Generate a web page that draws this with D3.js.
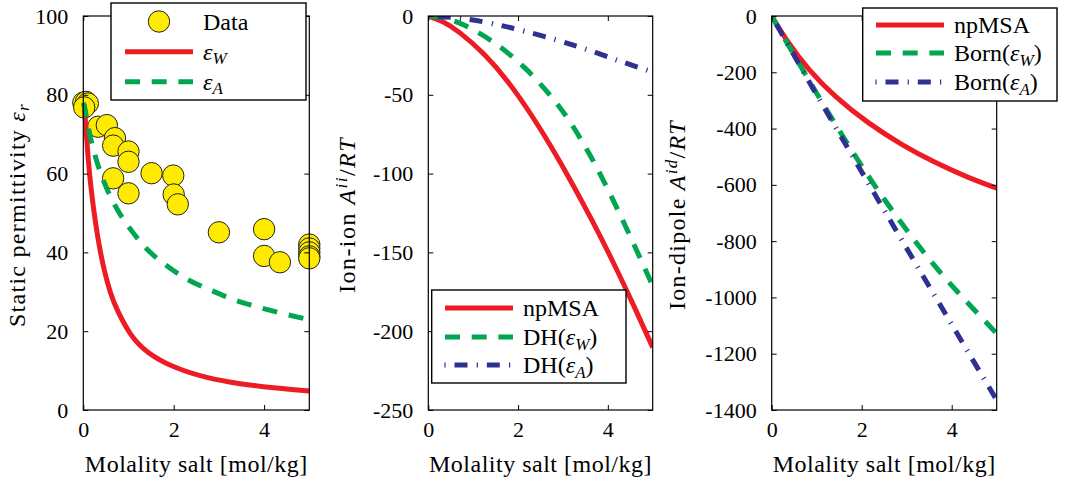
<!DOCTYPE html>
<html>
<head>
<meta charset="utf-8">
<script src="https://cdn.jsdelivr.net/npm/d3@7"></script>
<style>
html,body{margin:0;padding:0;background:#fff;}
svg{display:block;}
</style>
</head>
<body>
<svg id="chart" width="1072" height="483"></svg>
<script>
// ---------- Data ----------
// Panel 1: static permittivity
const dataMolality = [0, 0.06, 0.1, 0.02, 0.33, 0.52, 0.7, 0.66, 1.0, 1.0, 0.66, 1.0, 1.51, 1.99, 2.0, 2.09, 3.0, 4.0, 4.0, 4.35, 5.0, 5.0, 5.0, 5.0, 5.0];
const dataPermittivity = [78.0, 78.2, 77.8, 76.8, 71.9, 72.3, 69.0, 67.1, 65.6, 63.0, 58.8, 55.0, 60.1, 59.5, 54.7, 52.2, 45.1, 45.9, 39.1, 37.5, 42.0, 41.0, 40.0, 39.0, 38.5];

const epsWMolality = [0.02, 0.06, 0.1, 0.17, 0.28, 0.37, 0.46, 0.6, 0.74, 1.03, 1.4, 2.0, 2.73, 3.47, 4.2, 5.0];
const epsWValues   = [77.5, 71.5, 64.5, 56, 46.5, 40.5, 35.5, 29.5, 25.5, 19.0, 14.5, 10.7, 8.1, 6.6, 5.6, 4.8];

const epsAMolality = [0, 0.04, 0.13, 0.28, 0.46, 0.72, 1.02, 1.4, 1.81, 2.29, 2.8, 3.32, 3.87, 4.42, 5.0];
const epsAValues   = [78, 76.6, 70.2, 63.5, 57.5, 51.2, 46.1, 40.6, 36.8, 33.0, 30.5, 27.9, 26.1, 24.4, 22.9];

// Panel 2: ion-ion
const ionMolality = [0, 0.3, 0.67, 1.26, 1.78, 2.3, 2.75, 3.2, 3.64, 4.09, 4.53, 5.0];
const ionNpMSA    = [0, -3.0, -9.3, -24.1, -41.3, -62.6, -83.3, -105.8, -129.1, -154.3, -180.7, -210.3];
const dhWMolality = [0, 0.4, 0.74, 1.41, 2.15, 2.82, 3.2, 3.64, 4.09, 4.53, 5.0];
const dhWValues   = [0, -1.4, -4.5, -14.9, -31.9, -53.3, -68.5, -89.6, -114.8, -141.6, -171.2];
const dhAMolality = [0, 0.5, 1.04, 1.78, 2.9, 3.79, 4.38, 5.0];
const dhAValues   = [0, -0.6, -2.5, -6.8, -15.2, -23.7, -29.8, -35.5];

// Panel 3: ion-dipole
const dipMolality = [0, 0.36, 0.81, 1.4, 2.14, 2.88, 3.62, 4.36, 5.0];
const dipNpMSA    = [0, -95, -190, -287, -381, -457, -521, -574, -612];
const bornWMolality = [0, 0.66, 1.4, 2.14, 2.88, 3.62, 4.36, 5.0];
const bornWValues   = [0, -185, -381, -571, -737, -891, -1021, -1128];
const bornAMolality = [0, 0.88, 1.62, 2.29, 2.96, 3.7, 4.36, 5.0];
const bornAValues   = [0, -248, -450, -633, -815, -1015, -1193, -1365];

// Ticks
const xTicks = [0, 2, 4];
const yTicks1 = [0, 20, 40, 60, 80, 100];
const yTicks2 = [0, -50, -100, -150, -200, -250];
const yTicks3 = [0, -200, -400, -600, -800, -1000, -1200, -1400];

// ---------- Styles ----------
const RED = "#ed1c24", GREEN = "#00a650", BLUE = "#2e3192", YELLOW = "#ffeb00";
const FONT = "'Liberation Serif', 'DejaVu Serif', serif";
const FS = 22;

const svg = d3.select("#chart");
const plotTop = 16, plotBottom = 410;

function zip(xs, ys){ return xs.map((x,i)=>[x, ys[i]]); }

function fitWidth(t, target){
  t.style("font-family", FONT);
  const n = t.text().length;
  const w = t.node().getComputedTextLength();
  if (n > 1 && target > w) t.attr("letter-spacing", ((target - w) / n).toFixed(2));
}

function makePanel(cfg){
  const x = d3.scaleLinear().domain([0,5]).range([cfg.left, cfg.right]);
  const y = d3.scaleLinear().domain(cfg.ydom).range([plotBottom, plotTop]);
  const g = svg.append("g");
  const plot = g.append("g");
  const id = "clip" + Math.round(cfg.left);
  svg.append("defs").append("clipPath").attr("id", id)
    .append("rect").attr("x", cfg.left).attr("y", plotTop).attr("width", cfg.right-cfg.left).attr("height", plotBottom-plotTop);
  const clipped = plot.append("g").attr("clip-path", `url(#${id})`);
  const axG = g.append("g");
  axG.append("rect").attr("x", cfg.left).attr("y", plotTop).attr("width", cfg.right-cfg.left).attr("height", plotBottom-plotTop)
    .attr("fill","none").attr("stroke","#000").attr("stroke-width",1.2);
  const ax = (gen, tr) => axG.append("g").attr("transform", tr).call(gen)
      .call(s => s.select(".domain").remove());
  const b = ax(d3.axisBottom(x).tickValues(xTicks).tickSize(-5).tickPadding(16).tickFormat(d3.format("d")), `translate(0,${plotBottom})`);
  ax(d3.axisTop(x).tickValues(xTicks).tickSize(-5).tickFormat(""), `translate(0,${plotTop})`);
  ax(d3.axisLeft(y).tickValues(cfg.yticks).tickSize(-5).tickPadding(15).tickFormat(d => String(d)), `translate(${cfg.left},0)`);
  ax(d3.axisRight(y).tickValues(cfg.yticks).tickSize(-5).tickFormat(""), `translate(${cfg.right},0)`);
  axG.selectAll("g").attr("font-family", null);
  axG.selectAll(".tick line").attr("stroke","#000").attr("stroke-width",1);
  axG.selectAll(".tick text").attr("font-size", FS).attr("fill","#000").style("font-family", FONT);
  b.selectAll(".tick text").attr("dy","0.5em");
  const xl = g.append("text").attr("x", (cfg.left+cfg.right)/2).attr("y", 472).attr("text-anchor","middle")
    .attr("font-size", 24).text("Molality salt [mol/kg]");
  fitWidth(xl, 223);
  return {x, y, g, plot: clipped, over: g};
}

function drawLine(p, xs, ys, color, style){
  const line = d3.line().x(d=>p.x(d[0])).y(d=>p.y(d[1])).curve(d3.curveBasis);
  const path = p.plot.append("path").datum(zip(xs,ys)).attr("d", line)
    .attr("fill","none").attr("stroke", color).attr("stroke-width", 5);
  if (style === "dash") path.attr("stroke-dasharray","15,11.7");
  if (style === "dashdot") { applyDashDot(p.plot, path, color); }
  return path;
}

function applyDashDot(container, path, color){
  const period = 32.3;
  path.attr("stroke-dasharray", "13," + (period-13)).attr("stroke-dashoffset", period - 9.5);
  const node = path.node();
  const L = node.getTotalLength();
  for (let s = 0; s <= L; s += period){
    const p0 = node.getPointAtLength(Math.max(0, s-0.5));
    const p1 = node.getPointAtLength(Math.min(L, s+0.5));
    let dx = p1.x-p0.x, dy = p1.y-p0.y; const n = Math.hypot(dx,dy)||1; dx/=n; dy/=n;
    const c = node.getPointAtLength(s);
    container.append("line").attr("x1", c.x - dy*2.6).attr("y1", c.y + dx*2.6)
      .attr("x2", c.x + dy*2.6).attr("y2", c.y - dx*2.6)
      .attr("stroke", color).attr("stroke-width", 1.2);
  }
}

function legend(g, box, items){
  g.append("rect").attr("x", box.x).attr("y", box.y).attr("width", box.w).attr("height", box.h)
    .attr("fill","#fff").attr("stroke","#000").attr("stroke-width",1.4);
  items.forEach(it => {
    if (it.type === "marker") {
      g.append("circle").attr("cx", (box.lx1+box.lx2)/2).attr("cy", it.y).attr("r", 10.7)
        .attr("fill", YELLOW).attr("stroke","#222").attr("stroke-width",1);
    } else {
      const ln = g.append("path").attr("d", `M${box.lx1},${it.y}H${box.lx2}`).attr("stroke", it.color)
        .attr("stroke-width",5).attr("fill","none");
      if (it.type === "dash") ln.attr("stroke-dasharray","15,11.7");
      if (it.type === "dashdot") applyDashDot(g, ln, it.color);
    }
    const t = g.append("text").attr("x", box.tx).attr("y", it.y).attr("dy","0.35em").attr("font-size", 24);
    it.label(t);
  });
}

function epsLabel(t, prefix, sub, suffix){
  if (prefix) t.append("tspan").text(prefix);
  t.append("tspan").attr("font-style","italic").text("ε");
  t.append("tspan").attr("font-style","italic").attr("font-size",17).attr("dy","0.25em").text(sub);
  if (suffix) t.append("tspan").attr("dy","-0.18em").text(suffix);
}

// ---------- Panel 1 ----------
const p1 = makePanel({left:83.3, right:309.3, ydom:[0,100], yticks:yTicks1});
p1.plot.attr("clip-path", null);
p1.plot.selectAll("circle.d").data(zip(dataMolality, dataPermittivity)).enter().append("circle")
  .attr("class","d")
  .attr("cx", d=>p1.x(d[0])).attr("cy", d=>p1.y(d[1])).attr("r", 10.7)
  .attr("fill", YELLOW).attr("stroke","#222").attr("stroke-width",1);
drawLine(p1, epsWMolality, epsWValues, RED, "solid");
drawLine(p1, epsAMolality, epsAValues, GREEN, "dash");
legend(p1.over, {x:111, y:3, w:195, h:97, lx1:125, lx2:193, tx:203}, [
  {type:"marker", y:21.5, label:t=>t.text("Data")},
  {type:"solid", color:RED, y:51.7, label:t=>epsLabel(t, "", "W", "")},
  {type:"dash", color:GREEN, y:81.7, label:t=>epsLabel(t, "", "A", "")}
]);
{
  const t = svg.append("text").attr("transform","translate(25,215) rotate(-90)").attr("text-anchor","middle").attr("font-size",24);
  t.append("tspan").text("Static permittivity ");
  t.append("tspan").attr("font-style","italic").text("ε");
  t.append("tspan").attr("font-style","italic").attr("font-size",17).attr("dy","0.25em").text("r");
  fitWidth(t, 224);
}

// ---------- Panel 2 ----------
const p2 = makePanel({left:428.3, right:652.7, ydom:[-250,0], yticks:yTicks2});
drawLine(p2, ionMolality, ionNpMSA, RED, "solid");
drawLine(p2, dhWMolality, dhWValues, GREEN, "dash");
drawLine(p2, dhAMolality, dhAValues, BLUE, "dashdot");
legend(p2.over, {x:431.7, y:290, w:194.3, h:93, lx1:445, lx2:513, tx:523}, [
  {type:"solid", color:RED, y:308, label:t=>t.text("npMSA")},
  {type:"dash", color:GREEN, y:337, label:t=>epsLabel(t, "DH(", "W", ")")},
  {type:"dashdot", color:BLUE, y:365, label:t=>epsLabel(t, "DH(", "A", ")")}
]);
{
  const t = svg.append("text").attr("transform","translate(355,215) rotate(-90)").attr("text-anchor","middle").attr("font-size",24);
  t.append("tspan").text("Ion-ion ");
  t.append("tspan").attr("font-style","italic").text("A");
  t.append("tspan").attr("font-style","italic").attr("font-size",17).attr("dy","-0.45em").text("ii");
  t.append("tspan").attr("dy","0.33em").text("/");
  t.append("tspan").attr("font-style","italic").text("RT");
  fitWidth(t, 156);
}

// ---------- Panel 3 ----------
const p3 = makePanel({left:771.7, right:996.7, ydom:[-1400,0], yticks:yTicks3});
drawLine(p3, dipMolality, dipNpMSA, RED, "solid");
drawLine(p3, bornWMolality, bornWValues, GREEN, "dash");
drawLine(p3, bornAMolality, bornAValues, BLUE, "dashdot");
legend(p3.over, {x:862.7, y:8, w:194.3, h:93, lx1:876, lx2:944, tx:954}, [
  {type:"solid", color:RED, y:25, label:t=>t.text("npMSA")},
  {type:"dash", color:GREEN, y:53, label:t=>epsLabel(t, "Born(", "W", ")")},
  {type:"dashdot", color:BLUE, y:82, label:t=>epsLabel(t, "Born(", "A", ")")}
]);
{
  const t = svg.append("text").attr("transform","translate(685,215) rotate(-90)").attr("text-anchor","middle").attr("font-size",24);
  t.append("tspan").text("Ion-dipole ");
  t.append("tspan").attr("font-style","italic").text("A");
  t.append("tspan").attr("font-style","italic").attr("font-size",17).attr("dy","-0.45em").text("id");
  t.append("tspan").attr("dy","0.33em").text("/");
  t.append("tspan").attr("font-style","italic").text("RT");
  fitWidth(t, 190);
}

// font for all text
svg.selectAll("text").style("font-family", FONT).attr("fill", "#000");
</script>
</body>
</html>
